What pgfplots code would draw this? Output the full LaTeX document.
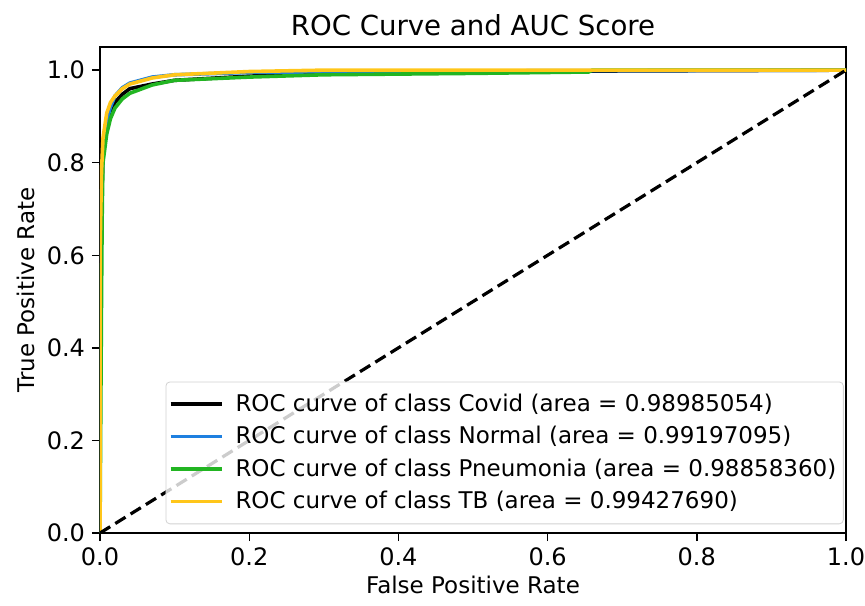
\documentclass[border=0pt]{standalone}
\usepackage{fontspec}
\setmainfont{DejaVu Sans}
\usepackage{pgfplots}
\pgfplotsset{compat=1.18}
\definecolor{cblue}{HTML}{1E80E0}
\definecolor{cgreen}{HTML}{22B522}
\definecolor{cyellow}{HTML}{FFC61A}
\begin{document}
\begin{tikzpicture}
\begin{axis}[
  width=373pt, height=243pt, scale only axis,
  xmin=0, xmax=1, ymin=0, ymax=1.05,
  xtick={0,0.2,0.4,0.6,0.8,1.0}, ytick={0,0.2,0.4,0.6,0.8,1.0},
  /pgf/number format/assume math mode=true,
  xticklabel style={font=\fontsize{12}{14}\selectfont, /pgf/number format/.cd, fixed, fixed zerofill, precision=1},
  yticklabel style={font=\fontsize{12}{14}\selectfont, /pgf/number format/.cd, fixed, fixed zerofill, precision=1},
  tick align=outside, tick pos=left, major tick length=4pt,
  every tick/.style={black, line width=0.7pt},
  axis line style={line width=0.8pt},
  font=\fontsize{11.5}{13}\selectfont,
  title={ROC Curve and AUC Score},
  title style={font=\fontsize{13.8}{16}\selectfont, yshift=-4pt},
  xlabel={False Positive Rate},
  ylabel={True Positive Rate},
  xlabel style={yshift=2pt},
  ylabel style={yshift=-1pt},
  legend style={at={(0.997,0.018)}, anchor=south east, draw=gray!35, rounded corners=2pt,
    fill=white, fill opacity=0.8, text opacity=1, font=\fontsize{11.5}{13}\selectfont,
    row sep=2pt, inner xsep=1.5pt, inner ysep=4pt,
    /tikz/every odd column/.append style={column sep=4pt}},
  legend cell align=left,
  legend image code/.code={\draw[#1] (0pt,0pt) -- (25.5pt,0pt);},
]
\addplot[black, line width=1.8pt] coordinates {
(0,0) (0,0.5) (0.002,0.70) (0.004,0.82) (0.009,0.88) (0.014,0.91) (0.02,0.93) (0.03,0.948)
(0.04,0.96) (0.07,0.97) (0.1,0.978) (0.2,0.987) (0.3,0.992) (0.5,0.996) (0.65,0.998) (1,1)};
\addlegendentry{ROC curve of class Covid (area = 0.98985054)}
\addplot[cblue, line width=1.8pt] coordinates {
(0,0) (0,0.6) (0.002,0.72) (0.004,0.83) (0.009,0.89) (0.014,0.92) (0.02,0.944) (0.03,0.962)
(0.04,0.972) (0.07,0.985) (0.1,0.99) (0.2,0.995) (0.4,0.998) (1,1)};
\addlegendentry{ROC curve of class Normal (area = 0.99197095)}
\addplot[cgreen, line width=1.8pt] coordinates {
(0,0) (0.002,0.5) (0.003,0.70) (0.004,0.80) (0.009,0.862) (0.014,0.895) (0.02,0.918) (0.03,0.938)
(0.04,0.95) (0.07,0.968) (0.1,0.978) (0.2,0.985) (0.3,0.99) (0.5,0.993) (0.655,0.996) (0.66,1) (1,1)};
\addlegendentry{ROC curve of class Pneumonia (area = 0.98858360)}
\addplot[cyellow, line width=1.8pt] coordinates {
(0,0) (0,0.6) (0.002,0.78) (0.004,0.853) (0.009,0.907) (0.014,0.93) (0.02,0.944) (0.03,0.96)
(0.04,0.97) (0.07,0.983) (0.1,0.99) (0.2,0.997) (0.3,1) (1,1)};
\addlegendentry{ROC curve of class TB (area = 0.99427690)}
\addplot[black, line width=1.6pt, dash pattern=on 6pt off 3pt, forget plot] coordinates {(0,0) (1,1)};
\end{axis}
\pgfresetboundingbox
\path (current axis.south west) ++(-50pt,-36pt) coordinate (bl);
\path (current axis.north east) ++(9.5pt,23.5pt) coordinate (tr);
\path (bl) rectangle (tr);
\end{tikzpicture}
\end{document}
